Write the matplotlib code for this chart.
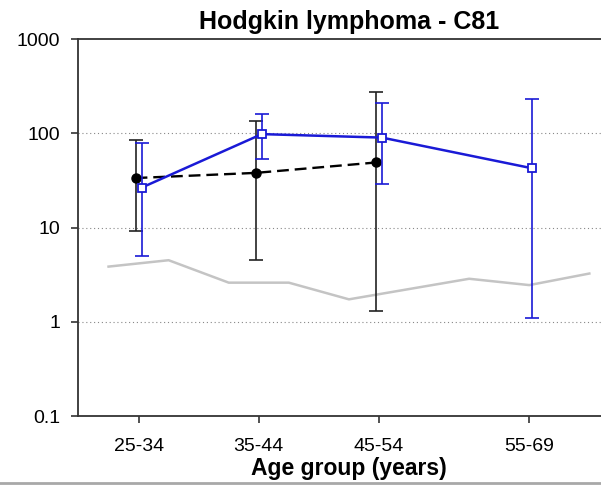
import matplotlib
matplotlib.use("Agg")
import matplotlib.pyplot as plt
from matplotlib.ticker import FixedLocator, FixedFormatter, NullLocator
from matplotlib.lines import Line2D

plt.rcParams['font.family'] = ['Liberation Sans', 'DejaVu Sans']

# age groups, plotted at their midpoints
age_labels = ['25-34', '35-44', '45-54', '55-69']
age_mid = [30, 40, 50, 62.5]

# black series (dashed, filled circles)
black_est = [33.5, 38.0, 49.0]
black_lo = [9.3, 4.5, 1.3]
black_hi = [85.0, 136.0, 275.0]

# blue series (solid, open squares)
blue_est = [26.5, 98.0, 90.0, 42.5]
blue_lo = [5.0, 54.0, 29.3, 1.11]
blue_hi = [78.0, 160.0, 209.0, 232.0]

# grey reference line, 5-year age groups
grey_mid = [27.5, 32.5, 37.5, 42.5, 47.5, 57.5, 62.5, 67.5]
grey_val = [3.85, 4.5, 2.6, 2.6, 1.73, 2.86, 2.45, 3.25]

fig = plt.figure(figsize=(6.01, 4.88), dpi=100)
ax = fig.add_axes([0.1306, 0.1475, 0.900, 0.7725])

ax.plot(grey_mid, grey_val, color='#c4c4c4', lw=1.8, zorder=2)

bx = [m - 0.25 for m in age_mid[:len(black_est)]]
b_err = [[e - l for e, l in zip(black_est, black_lo)],
         [h - e for e, h in zip(black_est, black_hi)]]
ax.errorbar(bx, black_est, yerr=b_err, fmt='none', ecolor='#222222',
            elinewidth=1.2, capsize=5, capthick=1.2, zorder=3)
ax.plot(bx, black_est, color='black', lw=1.7, ls=(0, (5, 2.5)),
        marker='o', ms=6.5, mfc='black', mec='black', zorder=4)

ux = [m + 0.25 for m in age_mid]
u_err = [[e - l for e, l in zip(blue_est, blue_lo)],
         [h - e for e, h in zip(blue_est, blue_hi)]]
ax.errorbar(ux, blue_est, yerr=u_err, fmt='none', ecolor='#1a1ad6',
            elinewidth=1.2, capsize=5, capthick=1.2, zorder=5)
ax.plot(ux, blue_est, color='#1a1ad6', lw=1.8, marker='s', ms=6,
        mfc='white', mec='#1a1ad6', mew=1.3, zorder=6)

ax.set_yscale('log')
ax.set_ylim(0.1, 1000)
ax.set_xlim(25, 70)

yt = [0.1, 1, 10, 100, 1000]
ax.yaxis.set_major_locator(FixedLocator(yt))
ax.yaxis.set_major_formatter(FixedFormatter(['0.1', '1', '10', '100', '1000']))
ax.yaxis.set_minor_locator(NullLocator())
ax.set_xticks(age_mid)
ax.set_xticklabels(age_labels)

for y in [1, 10, 100]:
    ax.axhline(y, color='#888888', lw=0.8, ls=(0, (1, 2.5)), zorder=1)

ax.tick_params(axis='both', labelsize=14, length=5, width=1.2,
               color='#333333', direction='out')
ax.tick_params(axis='y', pad=8)
ax.tick_params(axis='x', pad=11)

for s in ['left', 'top', 'bottom']:
    ax.spines[s].set_linewidth(1.3)
    ax.spines[s].set_color('#333333')
ax.spines['right'].set_visible(False)

ax.set_title('Hodgkin lymphoma - C81', fontsize=18, fontweight='bold', pad=7)
ax.set_xlabel('Age group (years)', fontsize=16.5, fontweight='bold', labelpad=1)

# page border line under the chart
fig.add_artist(Line2D([0, 1], [1 - 483 / 488, 1 - 483 / 488],
                      transform=fig.transFigure, color='#a8a8a8', lw=2))

fig.savefig('out.png', dpi=100)
